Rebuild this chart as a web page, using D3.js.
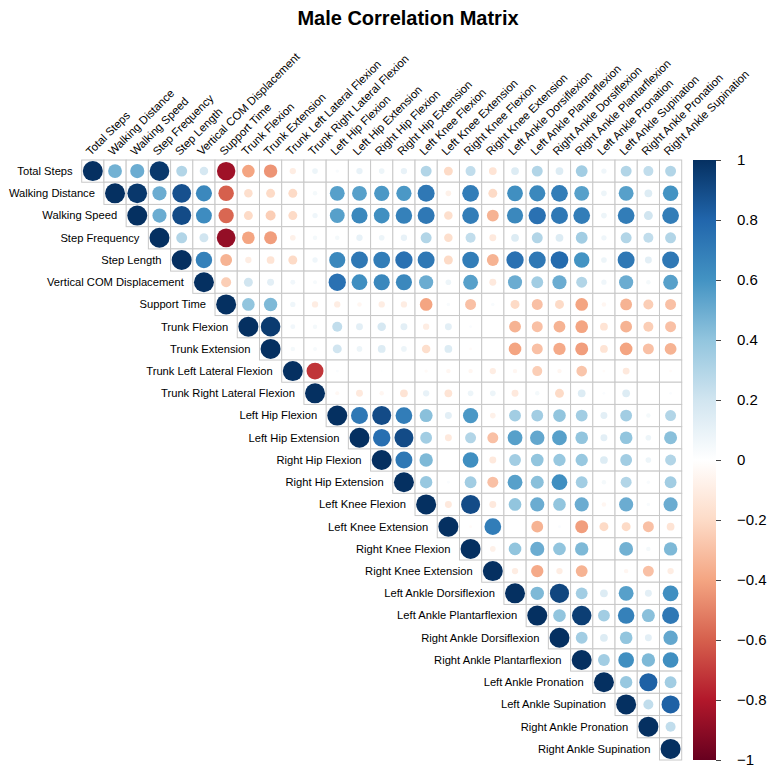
<!DOCTYPE html>
<html>
<head>
<meta charset="utf-8">
<script src="https://cdn.jsdelivr.net/npm/d3@7"></script>
<style>
  html, body { margin: 0; padding: 0; background: #fff; }
  svg { display: block; font-family: "Liberation Sans", Arial, sans-serif; }
</style>
</head>
<body>
<div id="chart"></div>
<script>
/* Male correlation matrix — upper triangle, circle glyphs (corrplot style) */

const variables = [
  'Total Steps', 'Walking Distance', 'Walking Speed', 'Step Frequency', 'Step Length',
  'Vertical COM Displacement', 'Support Time', 'Trunk Flexion', 'Trunk Extension',
  'Trunk Left Lateral Flexion', 'Trunk Right Lateral Flexion', 'Left Hip Flexion',
  'Left Hip Extension', 'Right Hip Flexion', 'Right Hip Extension', 'Left Knee Flexion',
  'Left Knee Extension', 'Right Knee Flexion', 'Right Knee Extension', 'Left Ankle Dorsiflexion',
  'Left Ankle Plantarflexion', 'Right Ankle Dorsiflexion', 'Right Ankle Plantarflexion',
  'Left Ankle Pronation', 'Left Ankle Supination', 'Right Ankle Pronation', 'Right Ankle Supination'
];

// each row starts at the diagonal and runs to the last column
const rowTotalSteps = [1, 0.48, 0.5, 0.97, 0.3, 0.18, -0.85, -0.4, -0.45, -0.1, 0.08, 0.03, 0.1, 0.08, 0.1, 0.3, -0.2, 0.25, -0.15, 0.15, 0.3, 0.15, 0.35, 0.07, 0.3, 0.25, 0.3];
const rowWalkingDistance = [1, 0.97, 0.5, 0.88, 0.65, -0.6, -0.18, -0.2, -0.2, 0.05, 0.55, 0.55, 0.58, 0.58, 0.72, -0.08, 0.7, -0.2, 0.62, 0.65, 0.7, 0.55, 0.08, 0.55, 0.15, 0.6];
const rowWalkingSpeed = [1, 0.5, 0.9, 0.63, -0.58, -0.2, -0.25, -0.2, 0.07, 0.55, 0.65, 0.62, 0.68, 0.72, -0.18, 0.7, -0.35, 0.65, 0.75, 0.72, 0.7, 0.08, 0.7, 0.2, 0.7];
const rowStepFrequency = [1, 0.3, 0.2, -0.88, -0.4, -0.42, -0.08, 0.05, 0.05, 0.1, 0.08, 0.1, 0.3, -0.18, 0.25, -0.12, 0.15, 0.3, 0.15, 0.35, 0.07, 0.3, 0.25, 0.3];
const rowStepLength = [1, 0.68, -0.35, -0.1, -0.15, -0.2, 0.07, 0.65, 0.72, 0.7, 0.75, 0.72, -0.2, 0.7, -0.35, 0.75, 0.72, 0.78, 0.6, 0.08, 0.72, 0.12, 0.72];
const rowVerticalCOM = [1, -0.25, 0.2, 0.12, 0.06, 0.04, 0.75, 0.62, 0.65, 0.65, 0.5, 0.08, 0.55, -0.12, 0.5, 0.35, 0.5, 0.3, 0.07, 0.5, 0.05, 0.55];
const rowSupportTime = [1, 0.4, 0.45, 0.07, -0.1, -0.1, -0.05, -0.1, -0.1, -0.4, 0.03, -0.3, 0.03, -0.2, -0.3, -0.2, -0.4, -0.05, -0.35, -0.25, -0.3];
const rowTrunkFlexion = [1, 0.96, 0.06, 0.05, 0.25, 0.12, 0.18, 0.12, -0.1, 0.12, 0.02, 0, -0.35, -0.3, -0.35, -0.4, -0.15, -0.35, -0.25, -0.3];
const rowTrunkExtension = [1, 0.05, 0.04, 0.2, 0.08, 0.15, 0.08, -0.18, 0.15, -0.02, 0, -0.4, -0.3, -0.38, -0.42, -0.15, -0.4, -0.3, -0.35];
const rowTrunkLeftLat = [1, -0.72, 0.02, 0, 0.01, 0, -0.03, -0.05, -0.05, -0.1, -0.05, -0.25, -0.05, -0.28, -0.02, -0.12, 0, -0.02];
const rowTrunkRightLat = [1, -0.04, -0.12, -0.05, -0.15, 0.1, -0.15, 0.08, 0.08, -0.12, 0.05, -0.2, 0.15, 0.02, 0.15, 0, 0.02];
const rowLeftHipFlex = [1, 0.72, 0.9, 0.7, 0.42, 0.12, 0.58, -0.08, 0.35, 0.35, 0.4, 0.35, 0.12, 0.35, 0.05, 0.3];
const rowLeftHipExt = [1, 0.76, 0.9, 0.35, -0.12, 0.3, -0.3, 0.55, 0.52, 0.55, 0.4, 0.12, 0.4, 0.08, 0.42];
const rowRightHipFlex = [1, 0.72, 0.45, 0, 0.62, -0.12, 0.35, 0.4, 0.38, 0.38, 0.15, 0.35, 0.08, 0.3];
const rowRightHipExt = [1, 0.38, 0.02, 0.35, -0.3, 0.55, 0.42, 0.62, 0.35, 0.05, 0.3, 0.03, 0.35];
const rowLeftKneeFlex = [1, -0.12, 0.9, -0.12, 0.4, 0.5, 0.4, 0.5, -0.05, 0.5, 0.03, 0.5];
const rowLeftKneeExt = [1, -0.02, 0.7, 0, -0.35, 0.02, -0.42, -0.2, -0.2, -0.3, -0.15];
const rowRightKneeFlex = [1, -0.08, 0.4, 0.5, 0.4, 0.45, 0, 0.48, 0.05, 0.45];
const rowRightKneeExt = [1, -0.1, -0.38, -0.1, -0.35, 0, -0.05, -0.3, -0.1];
const rowLeftAnkleDorsi = [1, 0.45, 0.92, 0.35, 0.15, 0.55, 0.12, 0.62];
const rowLeftAnklePlantar = [1, 0.4, 0.95, 0.35, 0.68, 0.42, 0.72];
const rowRightAnkleDorsi = [1, 0.35, 0.15, 0.4, 0.12, 0.52];
const rowRightAnklePlantar = [1, 0.35, 0.62, 0.45, 0.62];
const rowLeftAnklePron = [1, 0.38, 0.82, 0.35];
const rowLeftAnkleSup = [1, 0.25, 0.82];
const rowRightAnklePron = [1, 0.25];
const rowRightAnkleSup = [1];

const legendTicks = [-1, -0.8, -0.6, -0.4, -0.2, 0, 0.2, 0.4, 0.6, 0.8, 1];
const paletteColors = ['#67001F', '#B2182B', '#D6604D', '#F4A582', '#FDDBC7', '#FFFFFF',
  '#D1E5F0', '#92C5DE', '#4393C3', '#2166AC', '#053061'];

const rows = [
  rowTotalSteps, rowWalkingDistance, rowWalkingSpeed, rowStepFrequency, rowStepLength,
  rowVerticalCOM, rowSupportTime, rowTrunkFlexion, rowTrunkExtension, rowTrunkLeftLat,
  rowTrunkRightLat, rowLeftHipFlex, rowLeftHipExt, rowRightHipFlex, rowRightHipExt,
  rowLeftKneeFlex, rowLeftKneeExt, rowRightKneeFlex, rowRightKneeExt, rowLeftAnkleDorsi,
  rowLeftAnklePlantar, rowRightAnkleDorsi, rowRightAnklePlantar, rowLeftAnklePron,
  rowLeftAnkleSup, rowRightAnklePron, rowRightAnkleSup
];

const cells = [];
rows.forEach((vals, i) => {
  vals.forEach((v, k) => {
    cells.push({ row: variables[i], col: variables[i + k], value: v });
  });
});

const width = 767, height = 772;
const gridLeft = 81.7, gridTop = 160, gridSize = 600;

const svg = d3.select('#chart').append('svg')
  .attr('width', width).attr('height', height);

const x = d3.scaleBand().domain(variables).range([gridLeft, gridLeft + gridSize]);
const y = d3.scaleBand().domain(variables).range([gridTop, gridTop + gridSize]);
const color = d3.scaleLinear().domain(legendTicks).range(paletteColors);
const bw = x.bandwidth();

// ---- Title ----
svg.append('text')
  .attr('x', 408).attr('y', 25)
  .attr('text-anchor', 'middle')
  .attr('font-size', '20px').attr('font-weight', 'bold')
  .attr('fill', '#000')
  .text('Male Correlation Matrix');

// ---- Cells ----
svg.append('g').selectAll('rect')
  .data(cells).join('rect')
  .attr('x', d => x(d.col)).attr('y', d => y(d.row))
  .attr('width', bw).attr('height', bw)
  .attr('fill', '#fff')
  .attr('stroke', '#c8c8c8').attr('stroke-width', 1);

svg.append('g').selectAll('circle')
  .data(cells).join('circle')
  .attr('cx', d => x(d.col) + bw / 2)
  .attr('cy', d => y(d.row) + bw / 2)
  .attr('r', d => Math.sqrt(Math.abs(d.value)) * bw * 0.45)
  .attr('fill', d => color(d.value));

// ---- Row labels ----
svg.append('g').selectAll('text')
  .data(variables).join('text')
  .attr('x', d => x(d) - 9)
  .attr('y', d => y(d) + bw / 2)
  .attr('dy', '0.35em')
  .attr('text-anchor', 'end')
  .attr('font-size', '11.2px')
  .attr('fill', '#000')
  .text(d => d);

// ---- Column labels (45°) ----
svg.append('g').selectAll('text')
  .data(variables).join('text')
  .attr('transform', d => `translate(${x(d) + bw / 2 - 2},${gridTop - 4}) rotate(-45)`)
  .attr('font-size', '11.4px')
  .attr('fill', '#000')
  .text(d => d);

// ---- Colour legend ----
const barX = 693, barW = 23;
const legendY = d3.scaleLinear().domain([-1, 1]).range([gridTop + gridSize, gridTop]);
const grad = svg.append('defs').append('linearGradient')
  .attr('id', 'corrGrad').attr('x1', 0).attr('y1', 1).attr('x2', 0).attr('y2', 0);
legendTicks.forEach((t, i) => {
  grad.append('stop').attr('offset', `${i * 10}%`).attr('stop-color', paletteColors[i]);
});
svg.append('rect')
  .attr('x', barX).attr('y', gridTop)
  .attr('width', barW).attr('height', gridSize)
  .attr('fill', 'url(#corrGrad)');

svg.append('g')
  .attr('transform', `translate(${barX + barW},0)`)
  .call(d3.axisRight(legendY).tickValues(legendTicks).tickSize(5).tickPadding(16)
    .tickFormat(d3.format('')))
  .call(g => g.select('.domain').remove())
  .call(g => g.selectAll('line').attr('stroke', '#444'))
  .call(g => g.selectAll('text')
    .attr('font-size', '15px')
    .attr('font-family', '"Liberation Sans", Arial, sans-serif')
    .attr('fill', '#000'));
</script>
</body>
</html>
